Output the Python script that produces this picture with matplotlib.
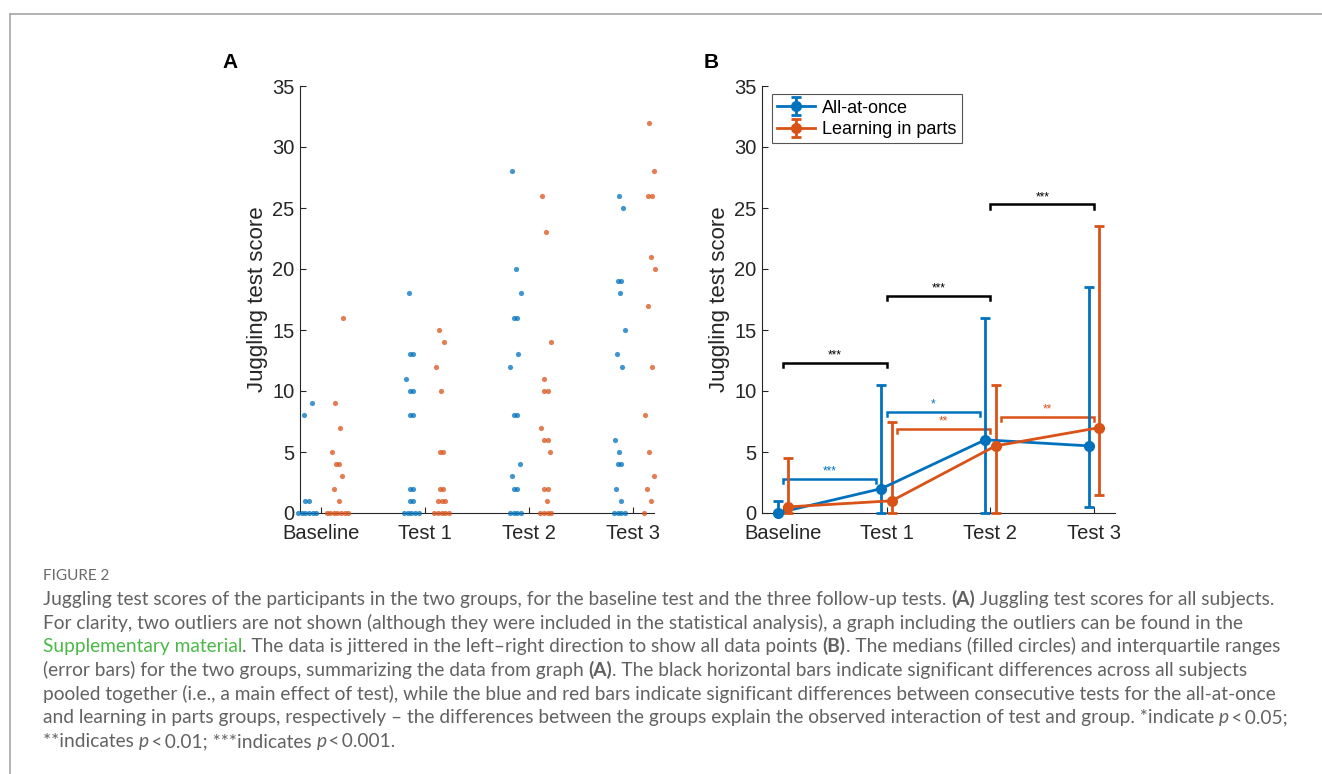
import matplotlib
matplotlib.use("Agg")
import matplotlib.pyplot as plt
from matplotlib.lines import Line2D
import numpy as np

plt.rcParams['font.family'] = ['Liberation Sans', 'DejaVu Sans']

# ---- data -----------------------------------------------------------------
categories = ['Baseline', 'Test 1', 'Test 2', 'Test 3']

# panel A: individual scores
all_at_once_scores = [
    [9, 8, 1, 1, 0, 0, 0, 0, 0, 0],
    [18, 13, 13, 11, 10, 10, 8, 8, 2, 2, 1, 1, 0, 0, 0, 0, 0],
    [28, 20, 18, 16, 16, 13, 12, 8, 8, 4, 3, 2, 2, 0, 0, 0, 0],
    [26, 25, 19, 19, 18, 15, 13, 12, 6, 5, 4, 4, 2, 1, 0, 0, 0, 0],
]
in_parts_scores = [
    [16, 9, 7, 5, 4, 4, 3, 2, 1, 0, 0, 0, 0, 0, 0, 0],
    [15, 14, 12, 10, 5, 5, 2, 2, 1, 1, 1, 0, 0, 0, 0, 0],
    [26, 23, 14, 11, 10, 10, 7, 6, 6, 5, 2, 2, 1, 0, 0, 0, 0],
    [32, 28, 26, 26, 21, 20, 17, 12, 8, 5, 3, 2, 1, 0],
]

# panel B: medians and interquartile ranges
all_at_once_median = [0, 2, 6, 5.5]
all_at_once_q1 = [0, 0, 0, 0.5]
all_at_once_q3 = [1, 10.5, 16, 18.5]
in_parts_median = [0.5, 1, 5.5, 7]
in_parts_q1 = [0, 0, 0, 1.5]
in_parts_q3 = [4.5, 7.5, 10.5, 23.5]

# significance brackets: (from test, to test), height, label
black_pairs = [(0, 1), (1, 2), (2, 3)]
black_heights = [12.3, 17.8, 25.3]
black_labels = ['***', '***', '***']
blue_pairs = [(0, 1), (1, 2)]
blue_heights = [2.8, 8.3]
blue_labels = ['***', '*']
orange_pairs = [(1, 2), (2, 3)]
orange_heights = [6.9, 7.9]
orange_labels = ['**', '**']

BLUE = '#0072BD'
ORANGE = '#D95319'
AXCOL = '#262626'

positions = np.arange(1, len(categories) + 1)


def jitter_x(values, center, spread=0.035):
    # side-by-side for ties, small deterministic shift for single points
    vals = np.asarray(values)
    xs = np.empty(len(vals))
    for k, v in enumerate(np.unique(vals)):
        idx = np.where(vals == v)[0]
        n = len(idx)
        off = ((k * 0.618) % 1 - 0.5) * 0.12 if n == 1 else 0.0
        xs[idx] = center + off + (np.arange(n) - (n - 1) / 2) * spread
    return xs


def style_axes(ax):
    ax.set_xlim(0.8, 4.2)
    ax.set_ylim(0, 35)
    ax.set_yticks(range(0, 36, 5))
    ax.set_xticks(positions)
    ax.set_xticklabels(categories)
    for s in ['top', 'right']:
        ax.spines[s].set_visible(False)
    for s in ['left', 'bottom']:
        ax.spines[s].set_color(AXCOL)
        ax.spines[s].set_linewidth(0.8)
    ax.tick_params(direction='in', length=4, width=0.8, labelsize=14.5,
                   color=AXCOL, labelcolor=AXCOL, pad=4)
    ax.tick_params(axis='x', pad=8)
    ax.set_ylabel('Juggling test score', fontsize=16, color=AXCOL, labelpad=3)


fig = plt.figure(figsize=(13.22, 7.74), dpi=100)
W, H = 1322, 774

# ---- panel A --------------------------------------------------------------
axA = fig.add_axes([300 / W, 261 / H, 354 / W, 427 / H])
for i, p in enumerate(positions):
    axA.scatter(jitter_x(all_at_once_scores[i], p - 0.13), all_at_once_scores[i],
                s=14, color=BLUE, alpha=0.75, linewidths=0, zorder=3, clip_on=False)
    axA.scatter(jitter_x(in_parts_scores[i], p + 0.16), in_parts_scores[i],
                s=14, color=ORANGE, alpha=0.75, linewidths=0, zorder=3, clip_on=False)
style_axes(axA)

# ---- panel B --------------------------------------------------------------
axB = fig.add_axes([762 / W, 261 / H, 353 / W, 427 / H])
med = np.array(all_at_once_median)
eb1 = axB.errorbar(positions - 0.05, med,
                   yerr=[med - np.array(all_at_once_q1), np.array(all_at_once_q3) - med],
                   color=BLUE, lw=2, marker='o', ms=7, capsize=3.5, capthick=2,
                   elinewidth=2, label='All-at-once', zorder=3, clip_on=False)
med = np.array(in_parts_median)
eb2 = axB.errorbar(positions + 0.05, med,
                   yerr=[med - np.array(in_parts_q1), np.array(in_parts_q3) - med],
                   color=ORANGE, lw=2, marker='o', ms=7, capsize=3.5, capthick=2,
                   elinewidth=2, label='Learning in parts', zorder=3, clip_on=False)


def bracket(ax, x0, x1, h, label, color, drop=0.35):
    ax.plot([x0, x0, x1, x1], [h - drop, h, h, h - drop], color=color, lw=1.8,
            solid_joinstyle='miter', zorder=2)
    ax.text((x0 + x1) / 2, h + 0.1, label, ha='center', va='bottom',
            fontsize=8.5, color=color)


for (a, b), h, lab in zip(black_pairs, black_heights, black_labels):
    bracket(axB, positions[a], positions[b], h, lab, 'black')
for (a, b), h, lab in zip(blue_pairs, blue_heights, blue_labels):
    bracket(axB, positions[a], positions[b] - 0.1, h, lab, BLUE)
for (a, b), h, lab in zip(orange_pairs, orange_heights, orange_labels):
    bracket(axB, positions[a] + 0.1, positions[b], h, lab, ORANGE)

style_axes(axB)
leg = axB.legend(loc='upper left', bbox_to_anchor=(0.028, 0.981), borderaxespad=0,
                 fontsize=13, fancybox=False, framealpha=1, edgecolor='#555555',
                 handlelength=2.1, handletextpad=0.4, borderpad=0.3, labelspacing=0.25)
leg.get_frame().set_linewidth(0.8)

# ---- panel letters and page frame -----------------------------------------
fig.text(230 / W, 1 - 62 / H, 'A', fontsize=15, weight='bold', ha='center', va='center')
fig.text(711 / W, 1 - 62 / H, 'B', fontsize=15, weight='bold', ha='center', va='center')
fig.add_artist(Line2D([10 / W, 1], [1 - 14 / H] * 2, transform=fig.transFigure,
                      color='#a6a6a6', lw=1.2))
fig.add_artist(Line2D([10 / W] * 2, [0, 1 - 14 / H], transform=fig.transFigure,
                      color='#a6a6a6', lw=1.2))

# ---- caption ---------------------------------------------------------------
CAP = '#626262'
GREEN = '#4cb848'
cap_font = ['Lato', 'DejaVu Sans']
caption_lines = [
    [("Juggling test scores of the participants in the two groups, for the baseline test "
      "and the three follow-up tests. ", 'n'), ("(A)", 'b'),
     (" Juggling test scores for all subjects.", 'n')],
    [("For clarity, two outliers are not shown (although they were included in the statistical "
      "analysis), a graph including the outliers can be found in the", 'n')],
    [("Supplementary material", 'g'),
     (". The data is jittered in the left\u2013right direction to show all data points ", 'n'),
     ("(B)", 'b'), (". The medians (filled circles) and interquartile ranges", 'n')],
    [("(error bars) for the two groups, summarizing the data from graph ", 'n'), ("(A)", 'b'),
     (". The black horizontal bars indicate significant differences across all subjects", 'n')],
    [("pooled together (i.e., a main effect of test), while the blue and red bars indicate "
      "significant differences between consecutive tests for the all-at-once", 'n')],
    [("and learning in parts groups, respectively \u2013 the differences between the groups "
      "explain the observed interaction of test and group. *indicate ", 'n'), ("p", 'i'),
     ("\u2009<\u20090.05;", 'n')],
    [("**indicates ", 'n'), ("p", 'i'), ("\u2009<\u20090.01; ***indicates ", 'n'), ("p", 'i'),
     ("\u2009<\u20090.001.", 'n')],
]
line_centers = [600, 623.7, 647.4, 671, 694.7, 718.4, 742]
CAP_SIZE = 13.75

renderer = fig.canvas.get_renderer()


def seg_props(style):
    props = dict(fontsize=CAP_SIZE, family=cap_font, color=CAP)
    if style == 'b':
        props['weight'] = 'bold'
    elif style == 'i':
        props['style'] = 'italic'
    elif style == 'g':
        props['color'] = GREEN
    return props


def seg_width(s, props):
    t1 = fig.text(0, 0, '|' + s + '|', **props)
    t2 = fig.text(0, 0, '||', **props)
    w = t1.get_window_extent(renderer).width - t2.get_window_extent(renderer).width
    t1.remove()
    t2.remove()
    return w


fig.text(43 / W, 1 - (576 + 4) / H, 'FIGURE 2', fontsize=11, family=cap_font,
         color='#6b6b6b', va='baseline')
for segs, yc in zip(caption_lines, line_centers):
    x = 43.0
    for s, style in segs:
        props = seg_props(style)
        fig.text(x / W, 1 - (yc + 5) / H, s, va='baseline', **props)
        x += seg_width(s, props)

fig.savefig('out.png', dpi=100)
